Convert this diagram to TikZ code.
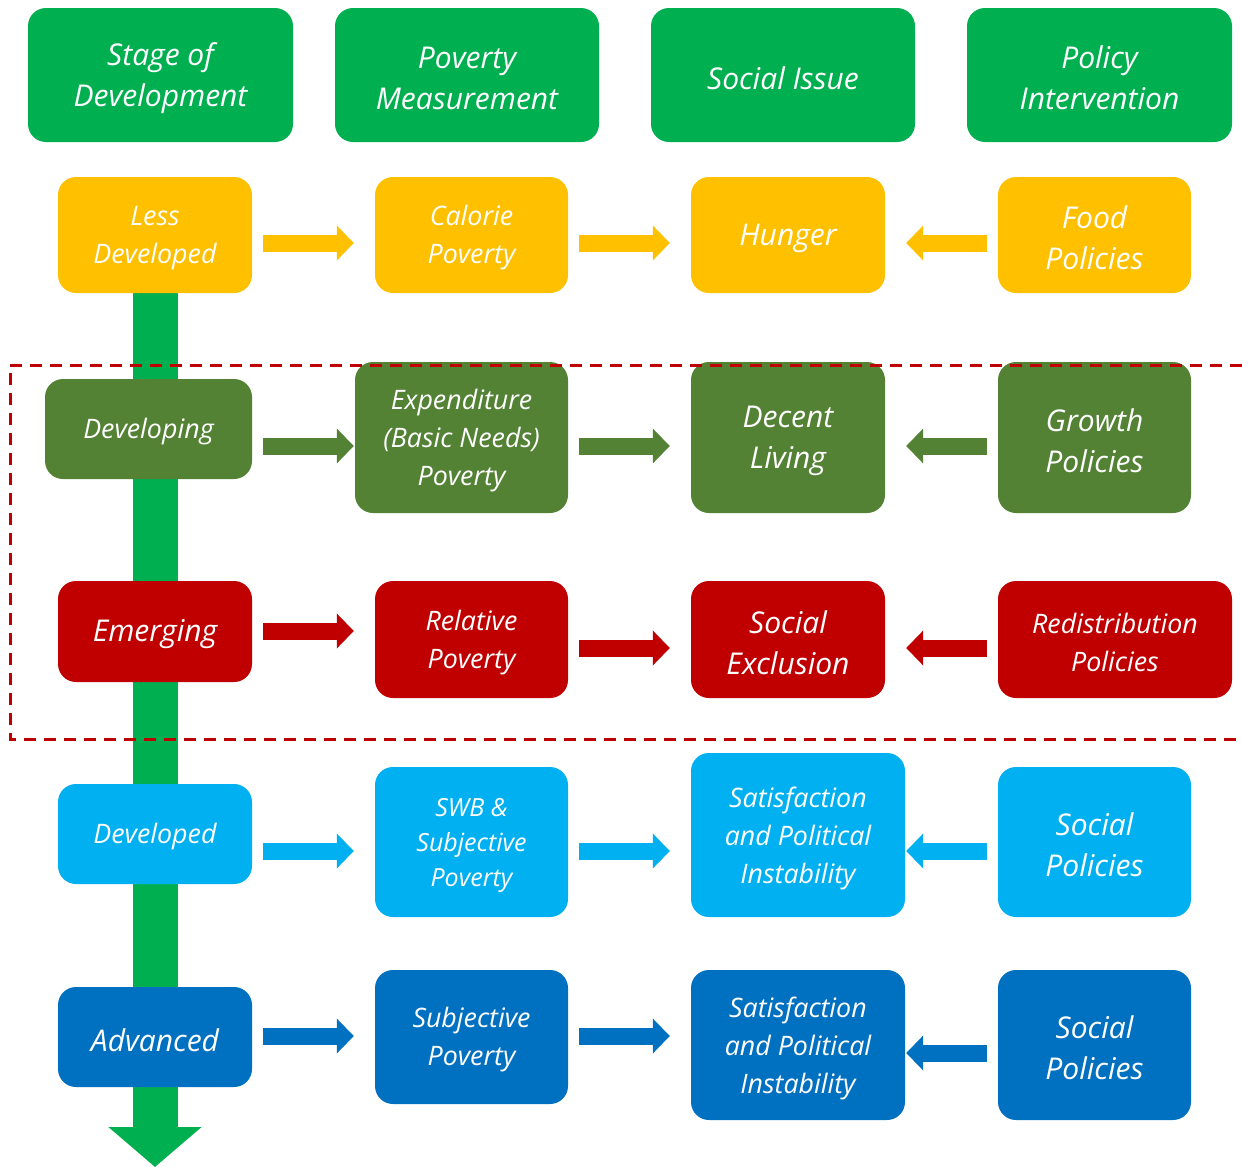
\documentclass[tikz,border=0pt]{standalone}
\usepackage{fontspec}
\setmainfont{Open Sans}
\usetikzlibrary{arrows.meta,calc,backgrounds}
\definecolor{hdr}{HTML}{00B050}
\definecolor{yel}{HTML}{FFC000}
\definecolor{grn}{HTML}{548235}
\definecolor{rowred}{HTML}{C00000}
\definecolor{lblue}{HTML}{00B0F0}
\definecolor{dblue}{HTML}{0070C0}
% \bx[text style]{name}{fill}{x,y}{w}{h}{text}
\newcommand\bx[7][]{%
  \node[boxshape,fill=#3,minimum width=#5,minimum height=#6] (#2) at (#4) {};
  \node[boxtext,#1] (#2-t) at ([yshift=-3pt]#2.center) {#7};}
\begin{document}
\begin{tikzpicture}[x=1pt,y=-1pt,
  boxshape/.style={rounded corners=18pt, inner sep=0pt},
  boxtext/.style={text=white, align=center, inner sep=0pt,
    font=\itshape\fontsize{26.8}{38}\selectfont},
  big/.style={font=\itshape\fontsize{30}{41}\selectfont},
  small/.style={font=\itshape\fontsize{25}{35}\selectfont},
  barrow/.style={line width=17pt, -{Triangle[width=34pt,length=17pt]}},
]
\useasboundingbox (0,0) rectangle (1242,1167);
% headers
\bx[big]{h1}{hdr}{160.5,75}{265}{134}{Stage of\\Development}
\bx[big]{h2}{hdr}{467,75}{264}{134}{Poverty\\Measurement}
\bx[big]{h3}{hdr}{783,75}{264}{134}{Social Issue}
\bx[big]{h4}{hdr}{1099.5,75}{265}{134}{Policy\\Intervention}
% row 1
\bx{lessdev}{yel}{155,235}{194}{116}{Less\\Developed}
\bx{calorie}{yel}{471.5,235}{193}{116}{Calorie\\Poverty}
\bx[big]{hunger}{yel}{788,235}{194}{116}{Hunger}
\bx[big]{food}{yel}{1094.5,235}{193}{116}{Food\\Policies}
% row 2
\bx{developing}{grn}{148.5,429}{207}{100}{Developing}
\bx{expend}{grn}{461.5,437.5}{213}{151}{Expenditure\\(Basic Needs)\\Poverty}
\bx[big]{decent}{grn}{788,437.5}{194}{151}{Decent\\Living}
\bx[big]{growth}{grn}{1094.5,437.5}{193}{151}{Growth\\Policies}
% row 3
\bx[big]{emerging}{rowred}{155,631.5}{194}{101}{Emerging}
\bx{relative}{rowred}{471.5,639.5}{193}{117}{Relative\\Poverty}
\bx[big]{exclusion}{rowred}{788,639.5}{194}{117}{Social\\Exclusion}
\bx{redis}{rowred}{1115,639.5}{234}{117}{Redistribution\\Policies}
% row 4
\bx{developed}{lblue}{155,834}{194}{100}{Developed}
\bx[small]{swb}{lblue}{471.5,842}{193}{150}{SWB \&\\Subjective\\Poverty}
\bx{sat1}{lblue}{798,835}{214}{164}{Satisfaction\\and Political\\Instability}
\bx[big]{soc1}{lblue}{1094.5,842}{193}{150}{Social\\Policies}
% row 5
\bx[big]{advanced}{dblue}{155,1037}{194}{100}{Advanced}
\bx{subj}{dblue}{471.5,1037}{193}{134}{Subjective\\Poverty}
\bx{sat2}{dblue}{798,1045}{214}{150}{Satisfaction\\and Political\\Instability}
\bx[big]{soc2}{dblue}{1094.5,1045}{193}{150}{Social\\Policies}
% stage arrow
\begin{scope}[on background layer]
\draw[hdr, line width=45pt, -{Triangle[width=91pt,length=40pt]}] (lessdev.south) -- (lessdev.south |- 0,1167);
\end{scope}
% row arrows
\draw[barrow,yel] ($(lessdev.east|-0,243)+(11,0)$) -- ($(calorie.west|-0,243)+(-21,0)$);
\draw[barrow,yel] ($(calorie.east|-0,243)+(11,0)$) -- ($(hunger.west|-0,243)+(-21,0)$);
\draw[barrow,yel] ($(food.west|-0,243)+(-11,0)$) -- ($(hunger.east|-0,243)+(21,0)$);
\draw[barrow,grn] ($(developing.east|-0,446)+(11,0)$) -- ($(expend.west|-0,446)+(-1,0)$);
\draw[barrow,grn] ($(expend.east|-0,446)+(11,0)$) -- ($(decent.west|-0,446)+(-21,0)$);
\draw[barrow,grn] ($(growth.west|-0,446)+(-11,0)$) -- ($(decent.east|-0,446)+(21,0)$);
\draw[barrow,rowred] ($(emerging.east|-0,631)+(11,0)$) -- ($(relative.west|-0,631)+(-21,0)$);
\draw[barrow,rowred] ($(relative.east|-0,648)+(11,0)$) -- ($(exclusion.west|-0,648)+(-21,0)$);
\draw[barrow,rowred] ($(redis.west|-0,648)+(-11,0)$) -- ($(exclusion.east|-0,648)+(21,0)$);
\draw[barrow,lblue] ($(developed.east|-0,851)+(11,0)$) -- ($(swb.west|-0,851)+(-21,0)$);
\draw[barrow,lblue] ($(swb.east|-0,851)+(11,0)$) -- ($(sat1.west|-0,851)+(-21,0)$);
\draw[barrow,lblue] ($(soc1.west|-0,851)+(-11,0)$) -- ($(sat1.east|-0,851)+(1,0)$);
\draw[barrow,dblue] ($(advanced.east|-0,1036)+(11,0)$) -- ($(subj.west|-0,1036)+(-21,0)$);
\draw[barrow,dblue] ($(subj.east|-0,1036)+(11,0)$) -- ($(sat2.west|-0,1036)+(-21,0)$);
\draw[barrow,dblue] ($(soc2.west|-0,1053)+(-11,0)$) -- ($(sat2.east|-0,1053)+(1,0)$);
% dashed frame
\draw[rowred, line width=3pt, dash pattern=on 12pt off 8pt] (1242,365) -- (10,365) -- (10,739) -- (1242,739);
\end{tikzpicture}
\end{document}
